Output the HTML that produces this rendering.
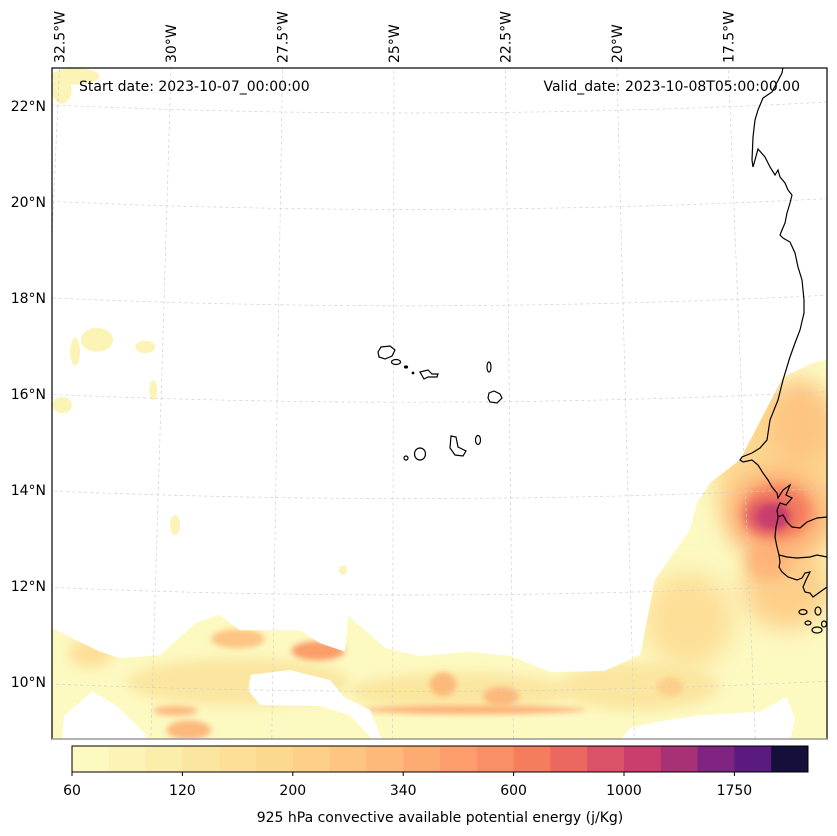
<!DOCTYPE html>
<html><head><meta charset="utf-8">
<style>
html,body{margin:0;padding:0;background:#fff;}
svg{display:block;font-family:"DejaVu Sans","Liberation Sans",sans-serif;}
</style></head>
<body>
<svg id="chart" width="837" height="836" viewBox="0 0 837 836" xmlns="http://www.w3.org/2000/svg">
<defs>
<clipPath id="mapclip"><rect x="52" y="68" width="775" height="671"/></clipPath>
<filter id="bl" x="-50%" y="-50%" width="200%" height="200%"><feGaussianBlur stdDeviation="6"/></filter>
<filter id="bl2" x="-50%" y="-50%" width="200%" height="200%"><feGaussianBlur stdDeviation="3"/></filter>
<filter id="bl3" x="-50%" y="-50%" width="200%" height="200%"><feGaussianBlur stdDeviation="12"/></filter>
</defs>
<rect x="52" y="68" width="775" height="671" fill="#fff"/>
<g id="field" clip-path="url(#mapclip)"></g>
<g id="grid" clip-path="url(#mapclip)"></g>
<g id="coast" clip-path="url(#mapclip)" fill="none" stroke="#000" stroke-width="1.2">
<path d="M783,67 L782,73 L772,92 L763,98 L758,110 L755,120 L753,137 L752,160 L753,167 L755,160 L758,149 L765,157 L770,167 L775,175 L778,170 L780,177 L785,183 L788,190 L792,195 L790,203 L787,213 L785,223 L782,230 L780,235 L783,238 L790,242 L795,253 L798,267 L802,280 L804,300 L804,313 L800,330 L795,343 L790,357 L783,380 L778,400 L770,420 L767,440 L760,448 L752,453 L742,457 L740,460 L743,462 L752,460 L758,465 L763,473 L768,480 L772,487 L777,493 L778,498 L783,490 L790,485 L786,495 L792,498 L786,505 L780,503 L777,510 L778,517 L783,515 L787,522 L792,527 L800,528 L807,522 L817,518 L827,517"/>
<path d="M778,518 L776,527 L775,537 L777,547 L779,555 L787,557 L797,558 L810,557 L817,555 L827,557"/>
<path d="M779,555 L780,562 L779,567 L782,572 L788,577 L797,580 L802,578 L805,573 L810,572 L806,580 L803,587 L805,592 L810,593 L813,597 L820,592 L827,587"/>
<ellipse cx="803" cy="612" rx="4" ry="2.5"/>
<ellipse cx="818" cy="611" rx="3" ry="4"/>
<ellipse cx="808" cy="623" rx="3" ry="2"/>
<ellipse cx="817" cy="630" rx="5" ry="3"/>
<ellipse cx="824" cy="624" rx="2.5" ry="3"/>
<path d="M378,352 L381,347 L390,346 L395,350 L392,356 L385,359 L379,357 Z"/>
<ellipse cx="396" cy="362" rx="4.5" ry="2.5"/>
<ellipse cx="406" cy="367" rx="1.5" ry="1" fill="#000"/>
<ellipse cx="413" cy="373" rx="0.8" ry="0.8" fill="#000"/>
<path d="M420,372 L428,370 L432,374 L438,374 L437,377 L428,377 L424,379 Z"/>
<ellipse cx="489" cy="367" rx="2" ry="5"/>
<path d="M489,393 L494,391 L500,394 L502,398 L497,403 L490,402 L488,398 Z"/>
<ellipse cx="478" cy="440" rx="2.5" ry="4.5"/>
<path d="M451,436 L456,437 L458,447 L466,451 L463,456 L455,455 L450,448 Z"/>
<ellipse cx="420" cy="454" rx="5.5" ry="6"/>
<ellipse cx="406" cy="458" rx="2" ry="2"/>
</g>
<rect x="52" y="68" width="775" height="671" fill="none" stroke="#000" stroke-width="1.2"/>
<line x1="52" y1="739" x2="827" y2="739" stroke="#aaa" stroke-width="1.5"/>
<g id="latlabels" font-size="14" text-anchor="end" fill="#000"></g>
<g id="lonlabels" font-size="14" fill="#000"></g>
<text x="79" y="91" font-size="14">Start date: 2023-10-07_00:00:00</text>
<text x="800" y="91" font-size="14" text-anchor="end">Valid_date: 2023-10-08T05:00:00.00</text>
<g id="cbar"></g>
<text x="440" y="822" font-size="14" text-anchor="middle">925 hPa convective available potential energy (j/Kg)</text>
</svg>
<script>
// colour levels (bin edges) and colours
const levels = [60,80,100,120,140,170,200,240,280,340,400,500,600,700,850,1000,1250,1500,1750,2000,2500];
const colors = ['#fcf9c1','#fcf3b6','#fbedaa','#fbe6a0','#fddf98','#fdd890','#fdcf89','#fdc482','#fdb87b','#fdab73','#fc9d6b','#fa8f65','#f47d5e','#ea6860','#da5268','#c93e6d','#a83075','#7f2481','#5a1a80','#150f39'];
const tickValues = [60,120,200,340,600,1000,1750];
const latTicks = [10,12,14,16,18,20,22];
const lonTicks = [-32.5,-30,-27.5,-25,-22.5,-20,-17.5];
// coverage region (lon, lat) of CAPE >= 60
const coverLon = [-32.67,-32.15,-31.59,-31.14,-30.25,-29.44,-28.92,-28.45,-27.11,-26.66,-26.10,-26.03,-25.20,-24.42,-23.30,-22.38,-21.50,-20.29,-19.48,-19.15,-18.36,-18.21,-17.91,-17.24,-16.28,-15.61,-15.29,-15.29,-32.67];
const coverLat = [11.13,10.88,10.63,10.50,10.56,11.23,11.40,11.08,11.08,10.81,10.63,11.38,10.71,10.54,10.63,10.54,10.21,10.23,10.56,12.13,13.17,13.73,14.15,14.63,16.35,16.65,16.71,8.81,8.81];
// holes (no data)
const hole1Lon = [-32.44,-32.40,-31.77,-31.21,-30.56,-30.56];
const hole1Lat = [8.81,9.29,9.81,9.50,8.90,8.81];
const hole2Lon = [-28.21,-27.33,-26.43,-26.10,-25.54,-25.27,-25.49,-25.99,-26.66,-28.00,-28.27];
const hole2Lat = [10.15,10.25,10.04,9.67,9.42,8.79,8.81,9.31,9.50,9.52,9.83];
const hole4Lon = [-19.91,-19.71,-19.08,-18.14,-16.79,-16.19,-16.01,-16.12];
const hole4Lat = [8.81,9.04,9.17,9.31,9.38,9.69,9.21,8.81];
// small isolated patches: lon, lat, rx(deg), ry(deg)
const patchLon = [-32.15,-31.66,-32.15,-30.58,-32.44,-30.40,-29.91,-26.14,-32.45];
const patchLat = [22.62,17.13,16.88,16.98,15.77,16.08,13.27,12.33,22.35];
const patchRx = [0.55,0.36,0.11,0.22,0.22,0.09,0.11,0.09,0.22];
const patchRy = [0.17,0.25,0.29,0.13,0.17,0.21,0.21,0.10,0.30];
// CAPE maxima: lon, lat, rx, ry, value
const blobLon = [-28.5,-23.5,-19.5,-18.4,-16.2,-16.2,-31.8,-18.8,-28.5,-15.9,-23.9,-22.6,-29.6,-16.6,-29.9,-23.2,-16.4,-26.7,-16.4,-16.6,-16.5];
const blobLat = [10.0,9.8,9.9,11.3,14.3,12.0,10.6,9.9,10.9,15.4,9.95,9.7,9.0,12.5,9.4,9.42,13.5,10.65,13.55,13.45,13.45];
const blobRx = [2.5,2.5,1.8,1.0,1.6,1.0,0.5,0.3,0.6,0.7,0.3,0.4,0.5,0.5,0.5,2.5,1.1,0.6,0.75,0.5,0.35];
const blobRy = [0.5,0.4,0.5,1.0,1.8,0.9,0.3,0.2,0.2,0.9,0.25,0.2,0.2,0.4,0.1,0.08,0.9,0.2,0.55,0.35,0.25];
const blobVal = [125,125,120,140,180,200,160,230,260,260,280,280,300,330,330,340,380,400,600,850,1000];

const NS='http://www.w3.org/2000/svg';
function px(lon){return 394+(lon+25)*44.6;}
function py(lat){return 106+(22-lat)*48;}
function colorOf(v){let i=0;while(i<colors.length-1&&v>=levels[i+1])i++;return colors[i];}
function pts(lons,lats){return lons.map((l,i)=>px(l).toFixed(1)+','+py(lats[i]).toFixed(1)).join(' ');}
// conic projection for graticule
const xc=410, lon0=-24.64, R22=8000, kk=44.6/7960, yP=113-8000;
function cx(lon,lat){const r=R22+(22-lat)*48.2;const t=(lon-lon0)*kk;return [xc+r*Math.sin(t), yP+r*Math.cos(t)];}

const field=document.getElementById('field');
const cover=document.createElementNS(NS,'polygon');
cover.setAttribute('points',pts(coverLon,coverLat));
cover.setAttribute('fill',colors[0]);


field.appendChild(cover);
patchLon.forEach((l,i)=>{
  const e=document.createElementNS(NS,'ellipse');
  e.setAttribute('cx',px(l));e.setAttribute('cy',py(patchLat[i]));
  e.setAttribute('rx',patchRx[i]*44.6);e.setAttribute('ry',patchRy[i]*48);
  e.setAttribute('fill',colors[1]);
  
  
  field.appendChild(e);
});
const bg=document.createElementNS(NS,'g');
bg.setAttribute('clip-path','url(#coverclip)');
const cc=document.createElementNS(NS,'clipPath');cc.setAttribute('id','coverclip');
const cp=document.createElementNS(NS,'polygon');cp.setAttribute('points',pts(coverLon,coverLat));cc.appendChild(cp);
document.querySelector('defs').appendChild(cc);
blobLon.forEach((l,i)=>{
  const e=document.createElementNS(NS,'ellipse');
  e.setAttribute('cx',px(l));e.setAttribute('cy',py(blobLat[i]));
  e.setAttribute('rx',blobRx[i]*44.6);e.setAttribute('ry',blobRy[i]*48);
  e.setAttribute('fill',colorOf(blobVal[i]));
  e.setAttribute('filter',blobRy[i]<0.3?'url(#bl2)':(blobRy[i]<0.8?'url(#bl)':'url(#bl3)'));
  
  
  bg.appendChild(e);
});
field.appendChild(bg);
[[hole1Lon,hole1Lat],[hole2Lon,hole2Lat],[hole4Lon,hole4Lat]].forEach(h=>{
  const p=document.createElementNS(NS,'polygon');
  p.setAttribute('points',pts(h[0],h[1]));p.setAttribute('fill','#fff');
  
  
  field.appendChild(p);
});

// graticule
const grid=document.getElementById('grid');
latTicks.forEach(lat=>{
  let d='';for(let lo=-34;lo<=-14;lo+=0.5){const q=cx(lo,lat);d+=(d?'L':'M')+q[0].toFixed(1)+','+q[1].toFixed(1);}
  const p=document.createElementNS(NS,'path');p.setAttribute('d',d);
  p.setAttribute('fill','none');p.setAttribute('stroke','#d0d0d0');p.setAttribute('stroke-width','0.7');p.setAttribute('stroke-dasharray','3,3');
  
  
  grid.appendChild(p);
});
lonTicks.concat([-15]).forEach(lon=>{
  const a=cx(lon,24),b=cx(lon,8);
  const p=document.createElementNS(NS,'line');
  p.setAttribute('x1',a[0]);p.setAttribute('y1',a[1]);p.setAttribute('x2',b[0]);p.setAttribute('y2',b[1]);
  p.setAttribute('stroke','#d0d0d0');p.setAttribute('stroke-width','0.7');p.setAttribute('stroke-dasharray','3,3');
  
  
  grid.appendChild(p);
});
// lat labels (left edge)
const ll=document.getElementById('latlabels');
latTicks.forEach(lat=>{
  const t=document.createElementNS(NS,'text');
  t.setAttribute('x',46);t.setAttribute('y',py(lat)+5);
  t.textContent=lat+'°N';
  
  
  ll.appendChild(t);
});
const lol=document.getElementById('lonlabels');
lonTicks.forEach(lon=>{
  const q=cx(lon,22.8);
  const t=document.createElementNS(NS,'text');
  t.setAttribute('transform','translate('+(q[0]+5).toFixed(1)+',63) rotate(-90)');
  t.textContent=Math.abs(lon)+'°W';
  
  
  lol.appendChild(t);
});
// colorbar
const cb=document.getElementById('cbar');
const cbx0=72,cbx1=808,cby=746,cbh=26,bw=(cbx1-cbx0)/colors.length;
colors.forEach((c,i)=>{
  const r=document.createElementNS(NS,'rect');
  r.setAttribute('x',cbx0+i*bw);r.setAttribute('y',cby);r.setAttribute('width',bw+0.5);r.setAttribute('height',cbh);r.setAttribute('fill',c);
  
  
  cb.appendChild(r);
});
const fr=document.createElementNS(NS,'rect');
fr.setAttribute('x',cbx0);fr.setAttribute('y',cby);fr.setAttribute('width',cbx1-cbx0);fr.setAttribute('height',cbh);fr.setAttribute('fill','none');fr.setAttribute('stroke','#000');fr.setAttribute('stroke-width','1');


cb.appendChild(fr);
tickValues.forEach(v=>{
  const i=levels.indexOf(v);const x=cbx0+i*bw;
  const l=document.createElementNS(NS,'line');
  l.setAttribute('x1',x);l.setAttribute('x2',x);l.setAttribute('y1',cby+cbh);l.setAttribute('y2',cby+cbh+4);l.setAttribute('stroke','#000');
  
  
  cb.appendChild(l);
  const t=document.createElementNS(NS,'text');
  t.setAttribute('x',x);t.setAttribute('y',795);t.setAttribute('font-size','14');t.setAttribute('text-anchor','middle');
  t.textContent=v;
  
  
  cb.appendChild(t);
});
</script>
</body></html>
